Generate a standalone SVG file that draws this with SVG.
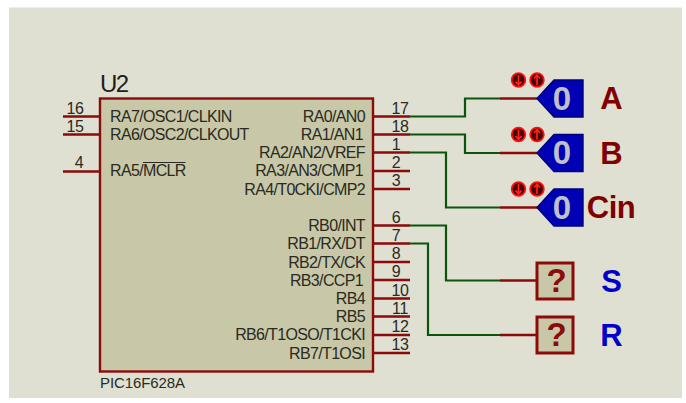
<svg xmlns="http://www.w3.org/2000/svg" width="686" height="403" viewBox="0 0 686 403">
<defs>
<style>
text{font-family:"Liberation Sans",Arial,sans-serif;}
.pl{font-size:16px;fill:#2a2a22;letter-spacing:-0.65px}
.r{text-anchor:end}
.n{font-size:16px;fill:#2a2a22;text-anchor:middle;letter-spacing:-0.4px}
.pin{stroke:#8b0a0a;stroke-width:2.4;fill:none}
.w{stroke:#0b540b;stroke-width:2.2;fill:none}
.lab{font-size:31px;font-weight:bold;text-anchor:middle}
.dig{font-size:33px;font-weight:bold;fill:#c0c0c8;text-anchor:middle}
.q{font-size:33px;font-weight:bold;fill:#8b0a0a;text-anchor:middle}
.src{fill:#0000b4;stroke:#00007a;stroke-width:1.4}
.prb{fill:#c8c8a8;stroke:#8b0a0a;stroke-width:3}
.btn{fill:#4a0000;stroke:#ff1010;stroke-width:1.8}
.ar{stroke:#ff2020;stroke-width:1.7;fill:none}
</style>
<g id="btns">
<circle class="btn" cx="0" cy="0" r="6.8"/>
</g>
</defs>
<rect width="686" height="403" fill="#ffffff"/>
<rect x="9" y="7.500" width="673" height="390.500" fill="#dfe0d2"/>
<g id="connectors">
<path class="w" d="M410 116.500H465V98.500H500"/>
<path class="w" d="M410 134.500H465V153H500"/>
<path class="w" d="M410 152.500H446V207.500H500"/>
<path class="w" d="M410 225.500H446V280.500H500"/>
<path class="w" d="M410 243.500H428V335H500"/>
</g>
<g id="U2">
<rect x="100" y="98.500" width="273" height="273" fill="#c8c8a8" stroke="#8b0a0a" stroke-width="2.4"/>
<path class="pin" d="M63 116.500H100M63 134.500H100M63 171.500H100"/>
<path class="pin" d="M373 116.500H410M373 134.500H410M373 152.500H410M373 171H410M373 189H410M373 225.500H410M373 243.500H410M373 262H410M373 280H410M373 298.500H410M373 316.500H410M373 335H410M373 353H410"/>
<text x="100" y="92" font-size="24" fill="#1e1e18" letter-spacing="-1.5">U2</text>
<text x="100" y="388" font-size="15" fill="#2a2a22" letter-spacing="-0.1">PIC16F628A</text>
<text class="n" x="75" y="114">16</text><text class="n" x="75" y="132">15</text><text class="n" x="79" y="168">4</text>
<text class="pl" x="110" y="122">RA7/OSC1/CLKIN</text>
<text class="pl" x="110" y="140">RA6/OSC2/CLKOUT</text>
<text class="pl" x="110" y="176">RA5/MCLR</text>
<path d="M143 162.500H185.500" stroke="#2a2a22" stroke-width="1"/>
<text class="pl r" x="365" y="122">RA0/AN0</text>
<text class="pl r" x="363" y="140">RA1/AN1</text>
<text class="pl r" x="365" y="158">RA2/AN2/VREF</text>
<text class="pl r" x="363" y="176">RA3/AN3/CMP1</text>
<text class="pl r" x="365" y="195">RA4/T0CKI/CMP2</text>
<text class="pl r" x="365" y="231">RB0/INT</text>
<text class="pl r" x="365" y="249">RB1/RX/DT</text>
<text class="pl r" x="365" y="268">RB2/TX/CK</text>
<text class="pl r" x="363" y="286">RB3/CCP1</text>
<text class="pl r" x="365" y="304">RB4</text>
<text class="pl r" x="365" y="322">RB5</text>
<text class="pl r" x="365" y="340">RB6/T1OSO/T1CKI</text>
<text class="pl r" x="365" y="359">RB7/T1OSI</text>
<text class="n" x="400" y="114">17</text><text class="n" x="400" y="132">18</text><text class="n" x="396" y="150">1</text><text class="n" x="396" y="168">2</text><text class="n" x="396" y="186">3</text>
<text class="n" x="396" y="223">6</text><text class="n" x="396" y="241">7</text><text class="n" x="396" y="259">8</text><text class="n" x="396" y="277">9</text><text class="n" x="400" y="296">10</text><text class="n" x="400" y="314">11</text><text class="n" x="400" y="332">12</text><text class="n" x="400" y="350">13</text>
</g>
<g id="A">
<path class="pin" d="M500 98.500H537"/>
<path class="src" d="M537 98.500L554 80H583V117H554Z"/>
<text class="dig" x="562" y="110">0</text>
<use href="#btns" x="518.500" y="80"/><use href="#btns" x="537" y="80"/>
<path class="ar" d="M518.500 75V85M515.500 81.500L518.500 85L521.500 81.500M537 85V75M534 78.500L537 75L540 78.500"/>
<text class="lab" x="611.500" y="109" fill="#800000">A</text>
</g>
<g id="B">
<path class="pin" d="M500 153H537"/>
<path class="src" d="M537 153L554 134.500H583V171.500H554Z"/>
<text class="dig" x="562" y="164">0</text>
<use href="#btns" x="518.500" y="134.500"/><use href="#btns" x="537" y="134.500"/>
<path class="ar" d="M518.500 129.500V139.500M515.500 136L518.500 139.500L521.500 136M537 139.500V129.500M534 133L537 129.500L540 133"/>
<text class="lab" x="611.500" y="163.500" fill="#800000">B</text>
</g>
<g id="Cin">
<path class="pin" d="M500 207.500H537"/>
<path class="src" d="M537 207.500L554 189H583V226H554Z"/>
<text class="dig" x="562" y="219">0</text>
<use href="#btns" x="518.500" y="189"/><use href="#btns" x="537" y="189"/>
<path class="ar" d="M518.500 184V194M515.500 190.500L518.500 194L521.500 190.500M537 194V184M534 187.500L537 184L540 187.500"/>
<text class="lab" x="611" y="218" fill="#800000" letter-spacing="-0.5">Cin</text>
</g>
<g id="S">
<path class="pin" d="M500 280.500H537"/>
<rect class="prb" x="537" y="263" width="36" height="36"/>
<text class="q" x="556.500" y="292">?</text>
<text class="lab" x="611.500" y="292" fill="#0000c8">S</text>
</g>
<g id="R">
<path class="pin" d="M500 335H537"/>
<rect class="prb" x="537" y="317" width="36" height="36"/>
<text class="q" x="556.500" y="346">?</text>
<text class="lab" x="611.500" y="346" fill="#0000c8">R</text>
</g>
</svg>
